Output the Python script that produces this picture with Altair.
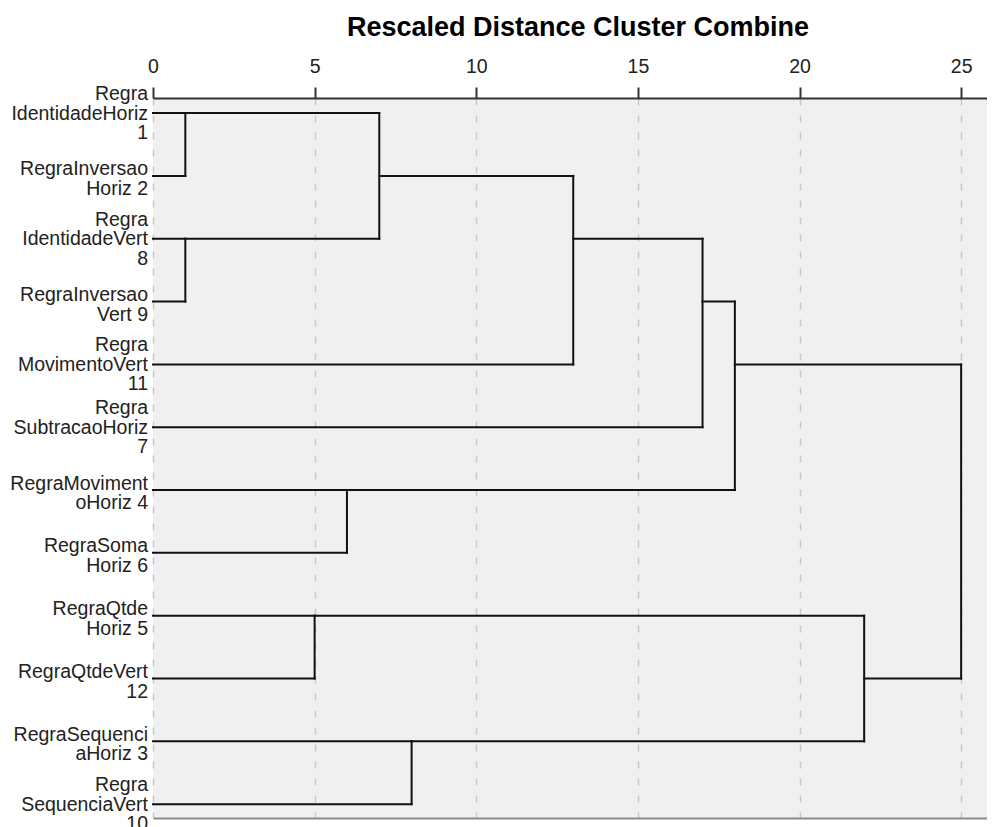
import altair as alt
import pandas as pd

# Leaf labels, top to bottom (dendrogram order)
labels = [
    "Regra\nIdentidadeHoriz\n1",
    "RegraInversao\nHoriz 2",
    "Regra\nIdentidadeVert\n8",
    "RegraInversao\nVert 9",
    "Regra\nMovimentoVert\n11",
    "Regra\nSubtracaoHoriz\n7",
    "RegraMoviment\noHoriz 4",
    "RegraSoma\nHoriz 6",
    "RegraQtde\nHoriz 5",
    "RegraQtdeVert\n12",
    "RegraSequenci\naHoriz 3",
    "Regra\nSequenciaVert\n10",
]

# Agglomeration schedule (ids < 12 are leaves, id 12+k is merge k)
merge_a = [0, 2, 8, 6, 12, 10, 16, 18, 19, 14, 20]
merge_b = [1, 3, 9, 7, 13, 11, 4, 5, 15, 17, 21]
merge_height = [1, 1, 5, 6, 7, 8, 13, 17, 18, 22, 25]

x_ticks = [0, 5, 10, 15, 20, 25]

n = len(labels)
row = {i: i for i in range(n)}
height = {i: 0 for i in range(n)}
segs = []
for k, (a, b, h) in enumerate(zip(merge_a, merge_b, merge_height)):
    ra, rb = row[a], row[b]
    segs.append({"x": h, "x2": h, "y": ra, "y2": rb})
    segs.append({"x": height[a], "x2": h, "y": ra, "y2": ra})
    segs.append({"x": height[b], "x2": h, "y": rb, "y2": rb})
    cid = n + k
    row[cid] = (min(ra, rb) + max(ra, rb)) // 2
    height[cid] = h
seg_df = pd.DataFrame(segs)

lab_df = pd.DataFrame({"label": labels, "row": list(range(n))})
lab_df["lines"] = lab_df["label"].str.count("\n") + 1

FONT = "Liberation Sans"
xscale = alt.Scale(domain=[0, 25.80], nice=False, zero=False)
yscale = alt.Scale(domain=[-0.24, 11.22], reverse=True, nice=False, zero=False)

top_axis = alt.Axis(
    orient="top", values=x_ticks, title=None, grid=True,
    gridDash=[7, 10], gridColor="#c8c8c8", gridWidth=1.5,
    domainColor="#333333", domainWidth=2, tickColor="#333333",
    tickWidth=2, tickSize=11, labelFontSize=19.5, labelFont=FONT,
    labelColor="#222222", labelPadding=11, labelFlush=False,
)
left_axis = alt.Axis(
    orient="left", title=None, labels=False, ticks=False, grid=False,
    domainColor="#8a8a8a", domainWidth=2,
)
bottom_axis = alt.Axis(
    orient="bottom", title=None, labels=False, ticks=False, grid=False,
    domainColor="#8a8a8a", domainWidth=2,
)

lines = alt.Chart(seg_df).mark_rule(
    color="#111111", strokeWidth=2, strokeCap="square"
).encode(
    x=alt.X("x:Q", scale=xscale, axis=top_axis),
    x2="x2:Q",
    y=alt.Y("y:Q", scale=yscale, axis=left_axis),
    y2="y2:Q",
)

frame = alt.Chart(seg_df).mark_rule(opacity=0).encode(
    x=alt.X("x:Q", scale=xscale, axis=bottom_axis),
    y=alt.Y("y:Q", scale=yscale, axis=None),
)

text_base = alt.Chart(lab_df)
txt3 = text_base.transform_filter("datum.lines != 2").mark_text(
    align="right", baseline="middle", lineBreak="\n", fontSize=19.5,
    lineHeight=19.5, font=FONT, color="#222222", dx=-5, dy=-19,
).encode(x=alt.value(0), y=alt.Y("row:Q", scale=yscale, axis=None), text="label:N")
txt2 = text_base.transform_filter("datum.lines == 2").mark_text(
    align="right", baseline="middle", lineBreak="\n", fontSize=19.5,
    lineHeight=19.5, font=FONT, color="#222222", dx=-5, dy=-6.5,
).encode(x=alt.value(0), y=alt.Y("row:Q", scale=yscale, axis=None), text="label:N")

chart = alt.layer(frame, lines, txt3, txt2).resolve_axis(x="independent").properties(
    width=834, height=720,
    autosize=alt.AutoSizeParams(type="none"),
    padding={"left": 145, "top": 90, "right": 0, "bottom": 12},
    title=alt.TitleParams(
        "Rescaled Distance Cluster Combine", anchor="middle", frame="group",
        fontSize=27, font=FONT, fontWeight="bold", color="#000000",
        offset=14, dx=8,
    ),
).configure_view(fill="#f0f0f0", stroke=None)

chart.save("out.html", embed_options={"renderer": "svg", "actions": False})
